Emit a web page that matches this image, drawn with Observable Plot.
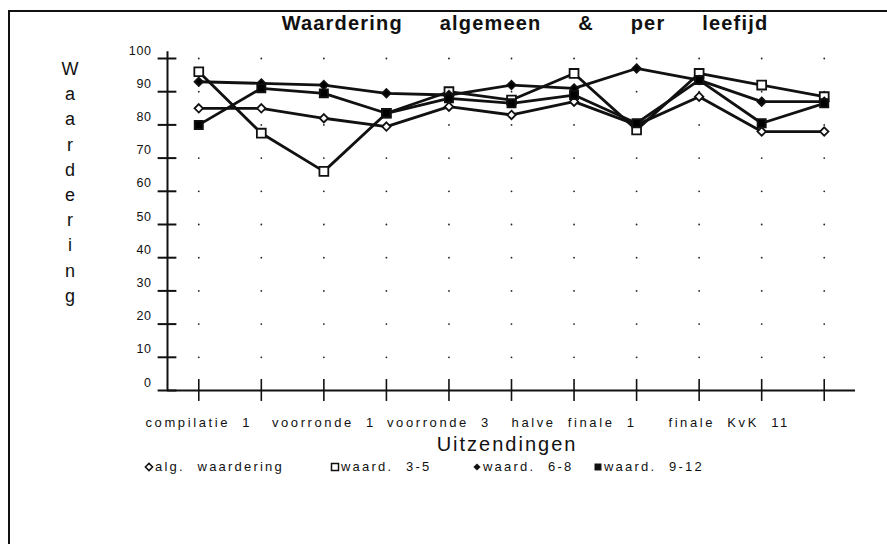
<!DOCTYPE html>
<html>
<head>
<meta charset="utf-8">
<script src="https://cdn.jsdelivr.net/npm/d3@7"></script>
<script src="https://cdn.jsdelivr.net/npm/@observablehq/plot@0.6"></script>
<style>
  body { margin: 0; background: #fff; font-family: "Liberation Sans", Arial, sans-serif; color: #111; }
  #wrap { position: relative; width: 887px; height: 544px; overflow: hidden; background: #fff; }
  #border { position: absolute; left: 8px; top: 10px; width: 1000px; height: 700px; border-top: 2px solid #111; border-left: 2px solid #111; }
  #title { position: absolute; top: 12px; left: 0; width: 1050px; text-align: center; font-weight: bold; font-size: 20px; letter-spacing: 1.2px; word-spacing: 30px; white-space: nowrap; }
  #ylab { position: absolute; left: 58px; top: 57px; width: 24px; text-align: center; font-size: 18px; line-height: 25.2px; }
  #xtitle { position: absolute; top: 433px; left: 0; width: 1014px; text-align: center; font-size: 20px; letter-spacing: 2px; }
  #legend { position: absolute; top: 459px; left: 0; width: 887px; height: 20px; font-size: 13px; letter-spacing: 2.2px; word-spacing: 7px; white-space: nowrap; }
  #legend .item { position: absolute; top: 0; }
  #legend svg { vertical-align: -1px; margin-right: 1px; }
  #chart { position: absolute; left: 0; top: 0; }
  #chart svg text { letter-spacing: 2.6px; word-spacing: 6px; }
  #chart svg g.ylabels text { letter-spacing: 0.6px; }
</style>
</head>
<body>
<div id="wrap">
  <div id="border"></div>
  <div id="title"></div>
  <div id="ylab"></div>
  <div id="chart"></div>
  <div id="xtitle"></div>
  <div id="legend"></div>
</div>
<script>
// ---- data ----
const titleText = "Waardering algemeen & per leefijd";
const yLabel = "Waardering";
const xLabel = "Uitzendingen";
const tickLabels = ["compilatie 1", "", "voorronde 1", "", "voorronde 3", "", "halve finale 1", "", "finale KvK 11", "", ""];
const yTicks = [0, 10, 20, 30, 40, 50, 60, 70, 80, 90, 100];
const seriesNames = ["alg. waardering", "waard. 3-5", "waard. 6-8", "waard. 9-12"];
const algWaardering = [85, 85, 82, 79.5, 85.5, 83, 87, 80, 88.5, 78, 78];
const waard3_5 = [96, 77.5, 66, 83.5, 90, 87.5, 95.5, 78.5, 95.5, 92, 88.5];
const waard6_8 = [93, 92.5, 92, 89.5, 89, 92, 91, 97, 93.5, 87, 87];
const waard9_12 = [80, 91, 89.5, 83.5, 88, 86.5, 89, 80.5, 93.5, 80.5, 86.5];

// ---- build tables ----
const seriesValues = [algWaardering, waard3_5, waard6_8, waard9_12];
const rows = [];
seriesValues.forEach((vals, s) => vals.forEach((v, i) => rows.push({series: seriesNames[s], i, v})));
const idx = tickLabels.map((_, i) => i);
const grid = [];
yTicks.filter(v => v > 0).forEach(v => idx.forEach(i => grid.push({i, v})));
const labelled = idx.filter(i => tickLabels[i] !== "");
const labelNudge = {4: -10, 8: 30};

document.getElementById("title").textContent = titleText;
document.getElementById("ylab").innerHTML = yLabel.split("").map(c => `<div>${c}</div>`).join("");
document.getElementById("xtitle").textContent = xLabel;

const symbolStyle = [
  {symbol: "diamond2", fill: "white", r: 3.8},
  {symbol: "square", fill: "white", r: 5},
  {symbol: "diamond2", fill: "black", r: 3.8},
  {symbol: "square", fill: "black", r: 4.6}
];

const xLabelMarks = labelled.map(i => Plot.text([i], {
  x: d => d, y: 0, text: d => tickLabels[d], dy: 32, dx: labelNudge[i] || 0,
  fontSize: 13, textAnchor: "middle", fill: "#111"
}));

const chart = Plot.plot({
  width: 887,
  height: 440,
  marginLeft: 167,
  marginRight: 32,
  marginTop: 58,
  marginBottom: 50,
  style: {background: "transparent", fontFamily: "Liberation Sans, Arial, sans-serif", overflow: "visible"},
  x: {domain: [-0.5, idx.length - 0.5], axis: null},
  y: {domain: [0, 100], axis: null},
  marks: [
    Plot.dot(grid, {x: "i", y: "v", r: 0.9, fill: "#222", stroke: null}),
    Plot.ruleY([0], {stroke: "#111", strokeWidth: 2}),
    Plot.ruleX([-0.5], {y1: 0, y2: 102, stroke: "#111", strokeWidth: 2}),
    Plot.ruleX(idx, {x: d => d, y1: -3.3, y2: 3.3, stroke: "#111", strokeWidth: 1.6}),
    Plot.ruleY(yTicks, {y: d => d, x1: -0.5 - 0.15, x2: -0.5 + 0.15, stroke: "#111", strokeWidth: 2}),
    Plot.text(yTicks, {x: -0.5, y: d => d, text: d => String(d), dx: -16, dy: -8, textAnchor: "end", fontSize: 12.5, fill: "#111"}),
    Plot.line(rows, {x: "i", y: "v", z: "series", stroke: "#111", strokeWidth: 2.8, strokeLinejoin: "round"}),
    ...seriesNames.map((name, s) => Plot.dot(rows.filter(r => r.series === name), {
      x: "i", y: "v", symbol: symbolStyle[s].symbol, r: symbolStyle[s].r,
      fill: symbolStyle[s].fill, stroke: "#111", strokeWidth: 1.8
    })),
    ...xLabelMarks
  ]
});
// the first text mark holds the y tick labels
const textGroups = chart.querySelectorAll('g[aria-label="text"]');
if (textGroups.length) textGroups[0].classList.add("ylabels");
document.getElementById("chart").appendChild(chart);

// ---- legend ----
const legendX = [144, 330, 472, 593];
const legendSvg = [
  `<svg width="10" height="10" viewBox="-5 -5 10 10"><path d="M0,-3.6L3.6,0L0,3.6L-3.6,0Z" fill="white" stroke="#111" stroke-width="1.5"/></svg>`,
  `<svg width="10" height="10" viewBox="-5 -5 10 10"><rect x="-3.5" y="-3.5" width="7" height="7" fill="white" stroke="#111" stroke-width="1.5"/></svg>`,
  `<svg width="10" height="10" viewBox="-5 -5 10 10"><path d="M0,-3.6L3.6,0L0,3.6L-3.6,0Z" fill="#111"/></svg>`,
  `<svg width="10" height="10" viewBox="-5 -5 10 10"><rect x="-3.5" y="-3.5" width="7" height="7" fill="#111"/></svg>`
];
document.getElementById("legend").innerHTML = seriesNames.map((n, s) =>
  `<span class="item" style="left:${legendX[s]}px">${legendSvg[s]}${n}</span>`).join("");
</script>
</body>
</html>
